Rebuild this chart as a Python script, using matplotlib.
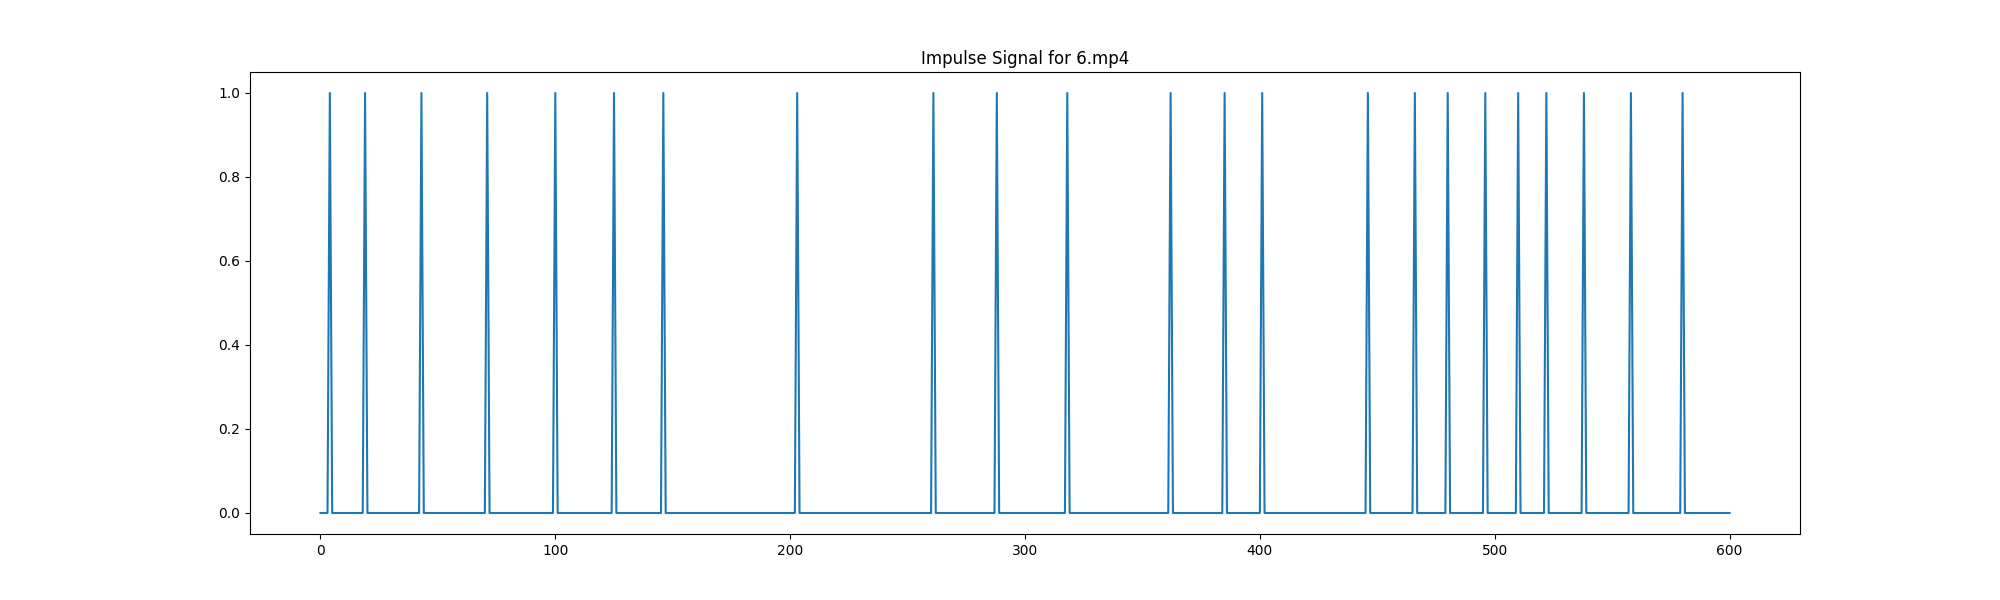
import numpy as np
import matplotlib
matplotlib.use("Agg")
import matplotlib.pyplot as plt

n_frames = 601
impulse_frames = [4, 19, 43, 71, 100, 125, 146, 203, 261, 288, 318, 362, 385,
                  401, 446, 466, 480, 496, 510, 522, 538, 558, 580]
title = "Impulse Signal for 6.mp4"

signal = np.zeros(n_frames)
signal[impulse_frames] = 1

plt.figure(figsize=(20, 6))
plt.plot(np.arange(n_frames), signal)
plt.title(title)
plt.savefig("out.png")
